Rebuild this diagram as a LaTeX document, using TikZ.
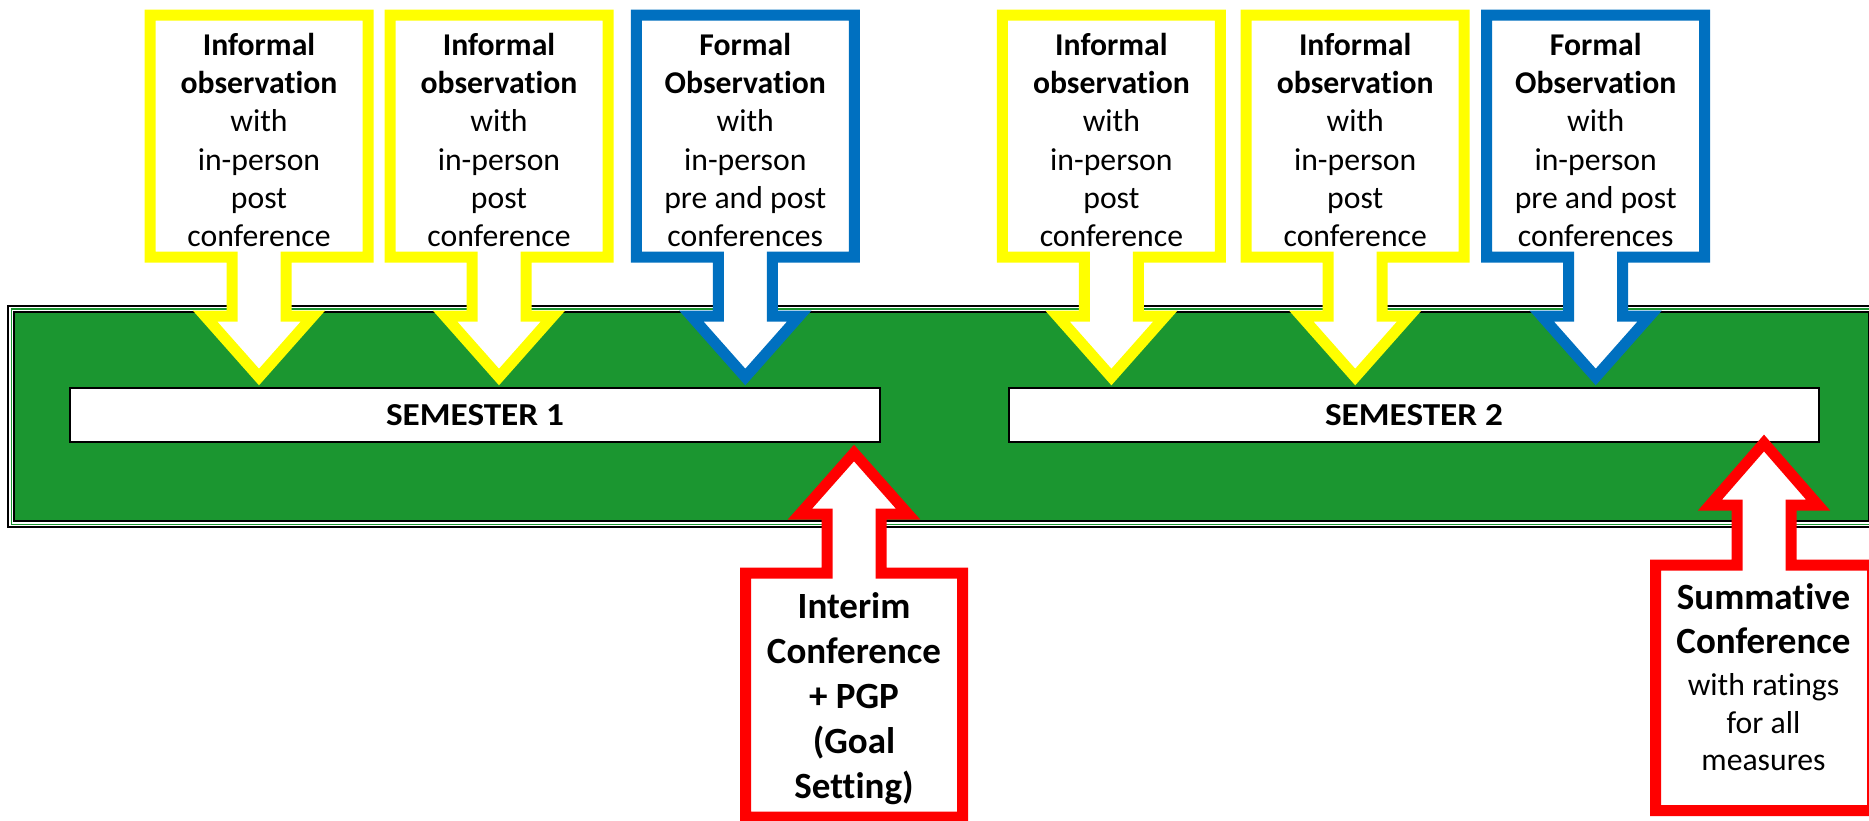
\documentclass[tikz,border=0pt]{standalone}
\usepackage{fontspec}
\setmainfont{Carlito}[Ligatures={NoCommon}]
\definecolor{grn}{RGB}{27,150,48}
\definecolor{ylw}{RGB}{255,255,0}
\definecolor{blu}{RGB}{0,112,192}
\definecolor{rd}{RGB}{255,0,0}
\tikzset{
  callout/.style={fill=white, line width=5.5pt, line join=miter},
  bar/.style={draw=black, fill=white, line width=0.75pt, minimum width=405pt, minimum height=27pt, inner sep=0pt,
    font=\fontsize{16pt}{18pt}\selectfont\bfseries},
  reg/.style={font=\fontsize{15.85pt}{19pt}\selectfont, anchor=base, inner sep=0pt},
  bld/.style={font=\fontsize{15.85pt}{19pt}\selectfont\bfseries, anchor=base, inner sep=0pt},
  big/.style={font=\fontsize{18.5pt}{22pt}\selectfont\bfseries, anchor=base, inner sep=0pt},
}
% down-pointing callout centred at x=#1, colour #2
\newcommand\downcallout[2]{%
  \draw[callout,draw=#2] (#1-109,15) -- (#1+109,15) -- (#1+109,257) -- (#1+27,257) -- (#1+27,316)
    -- (#1+54,316) -- (#1,377) -- (#1-54,316) -- (#1-27,316) -- (#1-27,257) -- (#1-109,257) -- cycle;}
% top box: #1 name, #2 x, #3 colour, #4-#9 lines
\newcommand\topbox[9]{%
  \downcallout{#2}{#3}
  \node[bld] (#1-1) at (#2,55) {#4};
  \node[bld] (#1-2) at (#2,93.3) {#5};
  \node[reg] (#1-3) at (#2,131.7) {#6};
  \node[reg] (#1-4) at (#2,170) {#7};
  \node[reg] (#1-5) at (#2,208.3) {#8};
  \node[reg] (#1-6) at (#2,246.7) {#9};}
% up-pointing callout: #1 x, #2 tip, #3 base, #4 box top, #5 box bottom
\newcommand\upcallout[5]{%
  \draw[callout,draw=rd] (#1-108.5,#5) -- (#1-108.5,#4) -- (#1-27,#4) -- (#1-27,#3) -- (#1-54,#3)
    -- (#1,#2) -- (#1+54,#3) -- (#1+27,#3) -- (#1+27,#4) -- (#1+108.5,#4) -- (#1+108.5,#5) -- cycle;}
\begin{document}
\begin{tikzpicture}[x=0.5pt,y=-0.5pt]
\useasboundingbox (0,0) rectangle (1869,820);
% green frame
\draw[line width=0.85pt] (8.2,306.2) rectangle (1885,526.9);
\draw[draw=grn, line width=0.6pt] (11.3,309) rectangle (1880,524.1);
\draw[fill=grn, line width=1pt] (14.3,311.7) rectangle (1868.5,521.2);
% semester bars
\node[bar] (sem1) at (475,415) {\raisebox{-1.3pt}{\scalebox{1.1}[1]{SEMESTER 1}}};
\node[bar] (sem2) at (1414,415) {\raisebox{-1.3pt}{\scalebox{1.1}[1]{SEMESTER 2}}};
% top callouts
\topbox{a}{259}{ylw}{Informal}{observation}{with}{in-person}{post}{conference}
\topbox{b}{499}{ylw}{Informal}{observation}{with}{in-person}{post}{conference}
\topbox{c}{745.3}{blu}{Formal}{Observation}{with}{in-person}{pre and post}{conferences}
\topbox{d}{1111.4}{ylw}{Informal}{observation}{with}{in-person}{post}{conference}
\topbox{e}{1355.2}{ylw}{Informal}{observation}{with}{in-person}{post}{conference}
\topbox{f}{1595.7}{blu}{Formal}{Observation}{with}{in-person}{pre and post}{conferences}
% interim callout
\upcallout{854}{453}{514}{573}{817}
\node[big] (i1) at (854,618) {Interim};
\node[big] (i2) at (854,663) {Conference};
\node[big] (i3) at (854,708) {+ PGP};
\node[big] (i4) at (854,753) {(Goal};
\node[big] (i5) at (854,798) {Setting)};
% summative callout
\upcallout{1764}{443}{505}{565}{810.5}
\node[big] (s1) at (1763.5,609.3) {Summative};
\node[big] (s2) at (1763.5,653.3) {Conference};
\node[reg] (s3) at (1763.5,695) {with ratings};
\node[reg] (s4) at (1763.5,733.3) {for all};
\node[reg] (s5) at (1763.5,770) {measures};
\end{tikzpicture}
\end{document}
